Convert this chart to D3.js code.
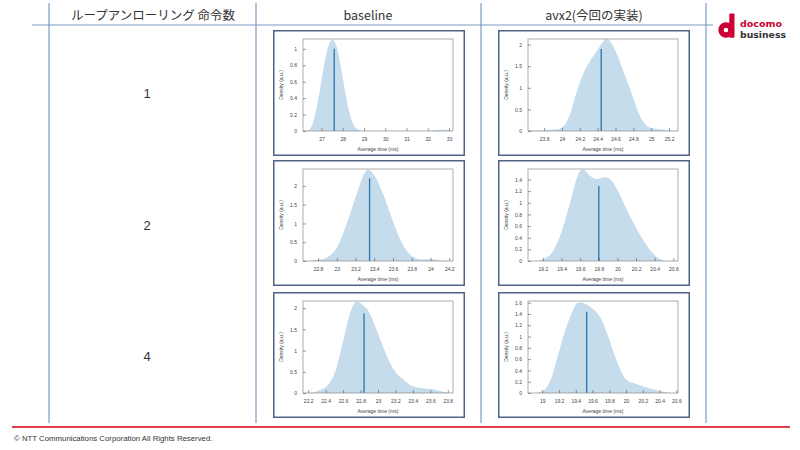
<!DOCTYPE html>
<html>
<head>
<meta charset="utf-8">
<script src="https://cdn.jsdelivr.net/npm/d3@7"></script>
<style>
  body { margin: 0; background: #fff; }
  svg { display: block; }
</style>
</head>
<body>
<script>
// column and row headers
var colHeaders = ["ループアンローリング 命令数", "baseline", "avx2(今回の実装)"];
var rowLabels = ["1", "2", "4"];

// density curves: [average time (ms), density]
var densB1 = [[26.3,0],[26.5,0.04],[26.7,0.2],[26.9,0.46],[27.1,0.77],[27.3,1.01],[27.5,1.11],
  [27.7,1.04],[27.9,0.8],[28.1,0.5],[28.3,0.24],[28.5,0.08],[28.7,0.02],[28.9,0],[32.0,0],
  [32.4,0.012],[32.8,0.015],[33.1,0.005]];
var densA1 = [[23.62,0.01],[23.8,0.02],[23.95,0.04],[24.0,0.08],[24.05,0.2],[24.1,0.45],[24.15,0.8],
  [24.2,1.12],[24.25,1.38],[24.3,1.57],[24.35,1.73],[24.4,1.88],[24.45,2.04],[24.5,2.13],[24.55,2.05],
  [24.6,1.85],[24.65,1.6],[24.7,1.32],[24.75,1.05],[24.8,0.75],[24.85,0.46],[24.9,0.25],[24.95,0.12],
  [25.0,0.07],[25.1,0.04],[25.2,0.01],[25.25,0]];
var densB2 = [[22.68,0],[22.8,0.03],[22.9,0.1],[23.0,0.35],[23.1,0.95],[23.2,1.7],[23.3,2.35],
  [23.33,2.44],[23.4,2.28],[23.5,1.75],[23.6,1.05],[23.7,0.45],[23.8,0.13],[23.9,0.04],[24.0,0.05],
  [24.1,0.02],[24.2,0]];
var densA2 = [[19.12,0],[19.2,0.03],[19.3,0.15],[19.4,0.5],[19.5,1.05],[19.55,1.35],[19.6,1.55],
  [19.63,1.57],[19.7,1.47],[19.78,1.41],[19.86,1.44],[19.92,1.41],[20.0,1.22],[20.1,0.88],[20.2,0.57],
  [20.3,0.3],[20.4,0.1],[20.5,0.01],[20.55,0]];
var densB4 = [[22.22,0],[22.35,0.08],[22.43,0.2],[22.51,0.51],[22.59,1.13],[22.67,1.82],[22.72,2.09],
  [22.76,2.16],[22.84,2.05],[22.9,1.9],[22.98,1.51],[23.05,1.13],[23.13,0.74],[23.21,0.47],[23.29,0.32],
  [23.4,0.16],[23.52,0.11],[23.63,0.08],[23.75,0.03],[23.83,0]];
var densA4 = [[18.93,0],[19.03,0.06],[19.11,0.27],[19.19,0.68],[19.27,1.09],[19.36,1.44],[19.42,1.6],
  [19.46,1.61],[19.54,1.56],[19.62,1.47],[19.7,1.32],[19.78,1.03],[19.86,0.68],[19.94,0.39],[20.0,0.24],
  [20.08,0.18],[20.2,0.12],[20.33,0.06],[20.45,0.02],[20.53,0]];

// mean markers [x, height]
var meanB1 = [27.6, 1.0], meanA1 = [24.44, 1.9];
var meanB2 = [23.35, 2.2], meanA2 = [19.8, 1.29];
var meanB4 = [22.84, 1.88], meanA4 = [19.53, 1.44];

// tick labels
var xTicksB1 = [27, 28, 29, 30, 31, 32, 33];
var xTicksA1 = [23.8, 24, 24.2, 24.4, 24.6, 24.8, 25, 25.2];
var xTicksB2 = [22.8, 23, 23.2, 23.4, 23.6, 23.8, 24, 24.2];
var xTicksA2 = [19.2, 19.4, 19.6, 19.8, 20, 20.2, 20.4, 20.6];
var xTicksB4 = [22.2, 22.4, 22.6, 22.8, 23, 23.2, 23.4, 23.6, 23.8];
var xTicksA4 = [19, 19.2, 19.4, 19.6, 19.8, 20, 20.2, 20.4, 20.6];
var yTicksB1 = [0, 0.2, 0.4, 0.6, 0.8, 1];
var yTicksA1 = [0, 0.5, 1, 1.5, 2];
var yTicksB2 = [0, 0.5, 1, 1.5, 2];
var yTicksA2 = [0, 0.2, 0.4, 0.6, 0.8, 1, 1.2, 1.4];
var yTicksB4 = [0, 0.5, 1, 1.5, 2];
var yTicksA4 = [0, 0.2, 0.4, 0.6, 0.8, 1, 1.2, 1.4, 1.6];

var panels = [
  {row: 0, col: 0, dens: densB1, mean: meanB1, xt: xTicksB1, yt: yTicksB1, xd: [26.13, 33.19], yMax: 1.12},
  {row: 0, col: 1, dens: densA1, mean: meanA1, xt: xTicksA1, yt: yTicksA1, xd: [23.62, 25.30], yMax: 2.13},
  {row: 1, col: 0, dens: densB2, mean: meanB2, xt: xTicksB2, yt: yTicksB2, xd: [22.64, 24.24], yMax: 2.45},
  {row: 1, col: 1, dens: densA2, mean: meanA2, xt: xTicksA2, yt: yTicksA2, xd: [19.04, 20.65], yMax: 1.58},
  {row: 2, col: 0, dens: densB4, mean: meanB4, xt: xTicksB4, yt: yTicksB4, xd: [22.14, 23.86], yMax: 2.17},
  {row: 2, col: 1, dens: densA4, mean: meanA4, xt: xTicksA4, yt: yTicksA4, xd: [18.83, 20.62], yMax: 1.63}
];

var W = 800, H = 450;
var svg = d3.select("body").append("svg").attr("width", W).attr("height", H);

var lineCol = "#7d9bc1";
var jp = "'Noto Sans CJK JP', 'Noto Sans', sans-serif";
var sans = "'Liberation Sans', Arial, sans-serif";

// table grid
[49, 256, 481, 706].forEach(function(x) {
  svg.append("line").attr("x1", x).attr("x2", x).attr("y1", 3).attr("y2", 423)
    .attr("stroke", lineCol).attr("stroke-width", 1.2);
});
svg.append("line").attr("x1", 32).attr("x2", 713).attr("y1", 25).attr("y2", 25)
  .attr("stroke", lineCol).attr("stroke-width", 1.2);

var colCenters = [153, 368, 594];
colHeaders.forEach(function(t, i) {
  svg.append("text").attr("x", colCenters[i]).attr("y", 19.5)
    .attr("text-anchor", "middle").attr("font-family", jp).attr("font-size", 12.5)
    .attr("fill", "#333").text(t);
});
var rowCenters = [93, 225, 356];
rowLabels.forEach(function(t, i) {
  svg.append("text").attr("x", 147).attr("y", rowCenters[i] + 5)
    .attr("text-anchor", "middle").attr("font-family", sans).attr("font-size", 13)
    .attr("fill", "#333").text(t);
});

// chart panels
var boxX = [273, 498], boxY = [30, 160, 292], boxW = 192, boxH = 126;
var area = d3.area().curve(d3.curveMonotoneX);

panels.forEach(function(p) {
  var bx = boxX[p.col], by = boxY[p.row];
  var g = svg.append("g").attr("transform", "translate(" + bx + "," + by + ")");
  g.append("rect").attr("x", 0.75).attr("y", 0.75).attr("width", boxW - 1.5).attr("height", boxH - 1.5)
    .attr("fill", "#fff").attr("stroke", "#4f6385").attr("stroke-width", 1.5);

  var l = 30, r = boxW - 12, t = 9, b = boxH - 25;
  var x = d3.scaleLinear().domain(p.xd).range([l, r]);
  var y = d3.scaleLinear().domain([0, p.yMax]).range([b, t]);

  area.x(function(d) { return x(d[0]); }).y0(b).y1(function(d) { return y(d[1]); });
  g.append("path").datum(p.dens).attr("d", area).attr("fill", "#c5dced");

  g.append("line").attr("x1", x(p.mean[0])).attr("x2", x(p.mean[0]))
    .attr("y1", y(0)).attr("y2", y(p.mean[1]))
    .attr("stroke", "#2b74ad").attr("stroke-width", 1.3);

  g.append("rect").attr("x", l).attr("y", t).attr("width", r - l).attr("height", b - t)
    .attr("fill", "none").attr("stroke", "#8a8a8a").attr("stroke-width", 0.7);

  var xa = g.append("g").attr("transform", "translate(0," + b + ")")
    .call(d3.axisBottom(x).tickValues(p.xt).tickSizeInner(-3).tickSizeOuter(0).tickPadding(6)
      .tickFormat(d3.format("")));
  var ya = g.append("g").attr("transform", "translate(" + l + ",0)")
    .call(d3.axisLeft(y).tickValues(p.yt).tickSizeInner(-3).tickSizeOuter(0).tickPadding(6)
      .tickFormat(d3.format("")));
  [xa, ya].forEach(function(a) {
    a.select(".domain").remove();
    a.selectAll("line").attr("stroke", "#555").attr("stroke-width", 0.6);
    a.selectAll("text").attr("font-family", sans).attr("font-size", 5).attr("fill", "#444");
  });

  g.append("text").attr("x", (l + r) / 2).attr("y", b + 20)
    .attr("text-anchor", "middle").attr("font-family", sans).attr("font-size", 5)
    .attr("fill", "#444").text("Average time (ms)");
  g.append("text").attr("transform", "translate(10," + ((t + b) / 2) + ") rotate(-90)")
    .attr("text-anchor", "middle").attr("font-family", sans).attr("font-size", 5)
    .attr("fill", "#444").text("Density (a.u.)");
});

// logo
var logo = svg.append("g");
logo.append("circle").attr("cx", 726).attr("cy", 30).attr("r", 5)
  .attr("fill", "none").attr("stroke", "#cc0033").attr("stroke-width", 5.4);
logo.append("rect").attr("x", 729.3).attr("y", 13.5).attr("width", 5.2).attr("height", 24.2)
  .attr("rx", 1).attr("fill", "#cc0033");
logo.append("text").attr("x", 740).attr("y", 27).attr("font-family", "'DejaVu Sans', sans-serif")
  .attr("font-weight", "bold").attr("font-size", 9.5).attr("fill", "#cc0033").text("docomo");
logo.append("text").attr("x", 740).attr("y", 37.5).attr("font-family", "'DejaVu Sans', sans-serif")
  .attr("font-weight", "bold").attr("font-size", 9.3).attr("fill", "#333").text("business");

// footer
svg.append("line").attr("x1", 12).attr("x2", 790).attr("y1", 427).attr("y2", 427)
  .attr("stroke", "#d7000f").attr("stroke-width", 1.6);
svg.append("text").attr("x", 14).attr("y", 441).attr("font-family", sans).attr("font-size", 7.8)
  .attr("fill", "#333").text("© NTT Communications Corporation All Rights Reserved.");
</script>
</body>
</html>
